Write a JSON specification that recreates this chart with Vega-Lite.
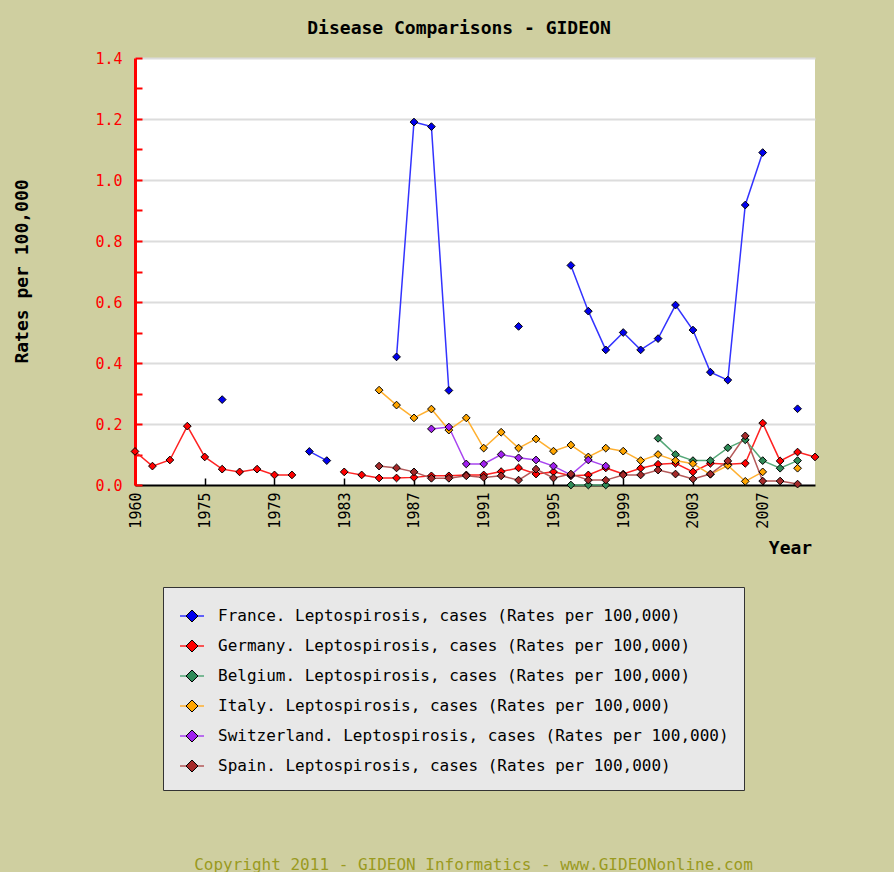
{
  "$schema": "https://vega.github.io/schema/vega-lite/v6.json",
  "width": 680,
  "height": 427,
  "autosize": "none",
  "padding": {"left": 135, "top": 58, "right": 79, "bottom": 387},
  "background": "#cfcfa0",
  "config": {
    "view": {"fill": "white", "stroke": null},
    "font": "DejaVu Sans Mono"
  },
  "title": {
    "text": "Disease Comparisons - GIDEON",
    "font": "DejaVu Sans Mono",
    "fontSize": 18,
    "fontWeight": "bold",
    "color": "black",
    "anchor": "middle",
    "dx": -16,
    "offset": 13
  },
  "data": {
    "values": [
      {"country": "France", "year": "1976", "rate": 0.28},
      {"country": "France", "year": "1977", "rate": null},
      {"country": "France", "year": "1981", "rate": 0.11},
      {"country": "France", "year": "1982", "rate": 0.08},
      {"country": "France", "year": "1983", "rate": null},
      {"country": "France", "year": "1986", "rate": 0.42},
      {"country": "France", "year": "1987", "rate": 1.19},
      {"country": "France", "year": "1988", "rate": 1.175},
      {"country": "France", "year": "1989", "rate": 0.31},
      {"country": "France", "year": "1990", "rate": null},
      {"country": "France", "year": "1993", "rate": 0.52},
      {"country": "France", "year": "1994", "rate": null},
      {"country": "France", "year": "1996", "rate": 0.72},
      {"country": "France", "year": "1997", "rate": 0.57},
      {"country": "France", "year": "1998", "rate": 0.443},
      {"country": "France", "year": "1999", "rate": 0.5},
      {"country": "France", "year": "2000", "rate": 0.443},
      {"country": "France", "year": "2001", "rate": 0.48},
      {"country": "France", "year": "2002", "rate": 0.59},
      {"country": "France", "year": "2003", "rate": 0.508},
      {"country": "France", "year": "2004", "rate": 0.37},
      {"country": "France", "year": "2005", "rate": 0.344},
      {"country": "France", "year": "2006", "rate": 0.918},
      {"country": "France", "year": "2007", "rate": 1.09},
      {"country": "France", "year": "2008", "rate": null},
      {"country": "France", "year": "2009", "rate": 0.25},

      {"country": "Germany", "year": "1960", "rate": 0.11},
      {"country": "Germany", "year": "1965", "rate": 0.062},
      {"country": "Germany", "year": "1970", "rate": 0.082},
      {"country": "Germany", "year": "1973", "rate": 0.193},
      {"country": "Germany", "year": "1975", "rate": 0.092},
      {"country": "Germany", "year": "1976", "rate": 0.052},
      {"country": "Germany", "year": "1977", "rate": 0.043},
      {"country": "Germany", "year": "1978", "rate": 0.052},
      {"country": "Germany", "year": "1979", "rate": 0.033},
      {"country": "Germany", "year": "1980", "rate": 0.033},
      {"country": "Germany", "year": "1981", "rate": null},
      {"country": "Germany", "year": "1983", "rate": 0.043},
      {"country": "Germany", "year": "1984", "rate": 0.033},
      {"country": "Germany", "year": "1985", "rate": 0.023},
      {"country": "Germany", "year": "1986", "rate": 0.023},
      {"country": "Germany", "year": "1987", "rate": 0.025},
      {"country": "Germany", "year": "1988", "rate": 0.03},
      {"country": "Germany", "year": "1989", "rate": 0.03},
      {"country": "Germany", "year": "1990", "rate": 0.033},
      {"country": "Germany", "year": "1991", "rate": 0.033},
      {"country": "Germany", "year": "1992", "rate": 0.044},
      {"country": "Germany", "year": "1993", "rate": 0.056},
      {"country": "Germany", "year": "1994", "rate": 0.036},
      {"country": "Germany", "year": "1995", "rate": 0.043},
      {"country": "Germany", "year": "1996", "rate": 0.03},
      {"country": "Germany", "year": "1997", "rate": 0.033},
      {"country": "Germany", "year": "1998", "rate": 0.056},
      {"country": "Germany", "year": "1999", "rate": 0.036},
      {"country": "Germany", "year": "2000", "rate": 0.055},
      {"country": "Germany", "year": "2001", "rate": 0.068},
      {"country": "Germany", "year": "2002", "rate": 0.071},
      {"country": "Germany", "year": "2003", "rate": 0.043},
      {"country": "Germany", "year": "2004", "rate": 0.071},
      {"country": "Germany", "year": "2005", "rate": 0.068},
      {"country": "Germany", "year": "2006", "rate": 0.071},
      {"country": "Germany", "year": "2007", "rate": 0.203},
      {"country": "Germany", "year": "2008", "rate": 0.079},
      {"country": "Germany", "year": "2009", "rate": 0.108},
      {"country": "Germany", "year": "2010", "rate": 0.092},

      {"country": "Belgium", "year": "1996", "rate": 0},
      {"country": "Belgium", "year": "1997", "rate": 0},
      {"country": "Belgium", "year": "1998", "rate": 0},
      {"country": "Belgium", "year": "1999", "rate": null},
      {"country": "Belgium", "year": "2001", "rate": 0.153},
      {"country": "Belgium", "year": "2002", "rate": 0.1},
      {"country": "Belgium", "year": "2003", "rate": 0.08},
      {"country": "Belgium", "year": "2004", "rate": 0.08},
      {"country": "Belgium", "year": "2005", "rate": 0.122},
      {"country": "Belgium", "year": "2006", "rate": 0.148},
      {"country": "Belgium", "year": "2007", "rate": 0.08},
      {"country": "Belgium", "year": "2008", "rate": 0.055},
      {"country": "Belgium", "year": "2009", "rate": 0.08},

      {"country": "Italy", "year": "1985", "rate": 0.311},
      {"country": "Italy", "year": "1986", "rate": 0.262},
      {"country": "Italy", "year": "1987", "rate": 0.22},
      {"country": "Italy", "year": "1988", "rate": 0.249},
      {"country": "Italy", "year": "1989", "rate": 0.18},
      {"country": "Italy", "year": "1990", "rate": 0.22},
      {"country": "Italy", "year": "1991", "rate": 0.121},
      {"country": "Italy", "year": "1992", "rate": 0.173},
      {"country": "Italy", "year": "1993", "rate": 0.121},
      {"country": "Italy", "year": "1994", "rate": 0.151},
      {"country": "Italy", "year": "1995", "rate": 0.111},
      {"country": "Italy", "year": "1996", "rate": 0.131},
      {"country": "Italy", "year": "1997", "rate": 0.092},
      {"country": "Italy", "year": "1998", "rate": 0.121},
      {"country": "Italy", "year": "1999", "rate": 0.111},
      {"country": "Italy", "year": "2000", "rate": 0.08},
      {"country": "Italy", "year": "2001", "rate": 0.1},
      {"country": "Italy", "year": "2002", "rate": 0.08},
      {"country": "Italy", "year": "2003", "rate": 0.07},
      {"country": "Italy", "year": "2004", "rate": 0.035},
      {"country": "Italy", "year": "2005", "rate": 0.064},
      {"country": "Italy", "year": "2006", "rate": 0.012},
      {"country": "Italy", "year": "2007", "rate": 0.043},
      {"country": "Italy", "year": "2008", "rate": null},
      {"country": "Italy", "year": "2009", "rate": 0.055},

      {"country": "Switzerland", "year": "1988", "rate": 0.184},
      {"country": "Switzerland", "year": "1989", "rate": 0.19},
      {"country": "Switzerland", "year": "1990", "rate": 0.069},
      {"country": "Switzerland", "year": "1991", "rate": 0.069},
      {"country": "Switzerland", "year": "1992", "rate": 0.1},
      {"country": "Switzerland", "year": "1993", "rate": 0.089},
      {"country": "Switzerland", "year": "1994", "rate": 0.082},
      {"country": "Switzerland", "year": "1995", "rate": 0.062},
      {"country": "Switzerland", "year": "1996", "rate": 0.033},
      {"country": "Switzerland", "year": "1997", "rate": 0.082},
      {"country": "Switzerland", "year": "1998", "rate": 0.062},

      {"country": "Spain", "year": "1985", "rate": 0.062},
      {"country": "Spain", "year": "1986", "rate": 0.056},
      {"country": "Spain", "year": "1987", "rate": 0.043},
      {"country": "Spain", "year": "1988", "rate": 0.022},
      {"country": "Spain", "year": "1989", "rate": 0.022},
      {"country": "Spain", "year": "1990", "rate": 0.03},
      {"country": "Spain", "year": "1991", "rate": 0.025},
      {"country": "Spain", "year": "1992", "rate": 0.03},
      {"country": "Spain", "year": "1993", "rate": 0.016},
      {"country": "Spain", "year": "1994", "rate": 0.052},
      {"country": "Spain", "year": "1995", "rate": 0.023},
      {"country": "Spain", "year": "1996", "rate": 0.036},
      {"country": "Spain", "year": "1997", "rate": 0.016},
      {"country": "Spain", "year": "1998", "rate": 0.016},
      {"country": "Spain", "year": "1999", "rate": 0.033},
      {"country": "Spain", "year": "2000", "rate": 0.033},
      {"country": "Spain", "year": "2001", "rate": 0.049},
      {"country": "Spain", "year": "2002", "rate": 0.036},
      {"country": "Spain", "year": "2003", "rate": 0.02},
      {"country": "Spain", "year": "2004", "rate": 0.036},
      {"country": "Spain", "year": "2005", "rate": 0.079},
      {"country": "Spain", "year": "2006", "rate": 0.161},
      {"country": "Spain", "year": "2007", "rate": 0.013},
      {"country": "Spain", "year": "2008", "rate": 0.013},
      {"country": "Spain", "year": "2009", "rate": 0.003}
    ]
  },
  "encoding": {
    "x": {
      "field": "year",
      "type": "ordinal",
      "scale": {
        "type": "point",
        "padding": 0,
        "domain": ["1960","1965","1970","1973","1975","1976","1977","1978","1979","1980","1981","1982","1983","1984","1985","1986","1987","1988","1989","1990","1991","1992","1993","1994","1995","1996","1997","1998","1999","2000","2001","2002","2003","2004","2005","2006","2007","2008","2009","2010"]
      },
      "axis": {
        "values": ["1960","1975","1979","1983","1987","1991","1995","1999","2003","2007"],
        "labelAngle": -90,
        "labelFont": "DejaVu Sans Mono",
        "labelFontSize": 15,
        "labelColor": "black",
        "labelPadding": 14,
        "tickSize": -7,
        "tickColor": "black",
        "tickWidth": 1.5,
        "domainColor": "black",
        "domainWidth": 2,
        "grid": false,
        "title": "Year",
        "titleFont": "DejaVu Sans Mono",
        "titleFontSize": 18,
        "titleFontWeight": "bold",
        "titleColor": "black",
        "titleX": 655,
        "titleY": 63,
        "titleAlign": "center",
        "titleBaseline": "middle"
      }
    },
    "y": {
      "field": "rate",
      "type": "quantitative",
      "scale": {"domain": [0, 1.4], "nice": false, "zero": true},
      "axis": {
        "values": [0, 0.1, 0.2, 0.3, 0.4, 0.5, 0.6, 0.7, 0.8, 0.9, 1.0, 1.1, 1.2, 1.3, 1.4],
        "labelExpr": "round(datum.value*10) % 2 === 0 ? format(datum.value, '.1f') : ''",
        "grid": true,
        "gridColor": "#dcdcdc",
        "gridWidth": 2,
        "gridOpacity": {"condition": {"test": "round(datum.value*10) % 2 === 0 && datum.value > 0", "value": 1}, "value": 0},
        "tickSize": -7,
        "tickColor": "red",
        "tickWidth": 2,
        "domainColor": "red",
        "domainWidth": 3,
        "labelColor": "red",
        "labelFont": "DejaVu Sans Mono",
        "labelFontSize": 15,
        "labelPadding": 20,
        "title": "Rates per 100,000",
        "titleFont": "DejaVu Sans Mono",
        "titleFontSize": 18,
        "titleFontWeight": "bold",
        "titleColor": "black",
        "titleX": -113,
        "titleY": 213,
        "titleAlign": "center",
        "titleBaseline": "middle"
      }
    }
  },
  "layer": [
    {
      "mark": {"type": "line", "strokeWidth": 1.5, "invalid": "break-paths-filter-domains"},
      "encoding": {
        "stroke": {
          "field": "country",
          "type": "nominal",
          "scale": {
            "domain": ["France", "Germany", "Belgium", "Italy", "Switzerland", "Spain"],
            "range": ["#3333ff", "#ff2222", "#55a878", "#ffb030", "#a845f0", "#b55a5a"]
          },
          "legend": {
            "orient": "none",
            "legendX": 28,
            "legendY": 529,
            "direction": "vertical",
            "title": null,
            "symbolType": "stroke",
            "symbolSize": 576,
            "symbolStrokeWidth": 1.5,
            "labelExpr": "datum.label + '. Leptospirosis, cases (Rates per 100,000)'",
            "labelOpacity": 0,
            "labelFont": "DejaVu Sans Mono",
            "labelFontSize": 16,
            "labelLimit": 700,
            "labelOffset": 12,
            "padding": 16,
            "rowPadding": 9,
            "fillColor": "#e8e8e8",
            "strokeColor": "#333333",
            "zindex": 0
          }
        }
      }
    },
    {
      "mark": {"type": "point", "shape": "diamond", "filled": true, "size": 60, "opacity": 1, "stroke": "black", "strokeWidth": 1, "invalid": "filter"},
      "encoding": {
        "x": {
          "field": "year",
          "type": "ordinal",
          "scale": {
            "type": "point",
            "padding": 0,
            "domain": ["1960","1965","1970","1973","1975","1976","1977","1978","1979","1980","1981","1982","1983","1984","1985","1986","1987","1988","1989","1990","1991","1992","1993","1994","1995","1996","1997","1998","1999","2000","2001","2002","2003","2004","2005","2006","2007","2008","2009","2010"]
          },
          "axis": {
            "orient": "top",
            "labels": false,
            "ticks": false,
            "domain": false,
            "grid": false,
            "title": "Copyright 2011 - GIDEON Informatics - www.GIDEONonline.com",
            "titleFont": "DejaVu Sans Mono",
            "titleFontSize": 16,
            "titleFontWeight": "normal",
            "titleColor": "#9a9a20",
            "titleX": 338,
            "titleY": 806,
            "titleAlign": "center",
            "titleBaseline": "middle"
          }
        },
        "fill": {
          "field": "country",
          "type": "nominal",
          "sort": ["France", "Germany", "Belgium", "Italy", "Switzerland", "Spain"],
          "scale": {"range": ["#0000ee", "#ff0000", "#2e8b57", "#ffa500", "#a020f0", "#a52a2a"]},
          "legend": {
            "orient": "none",
            "legendX": 33,
            "legendY": 534,
            "direction": "vertical",
            "title": null,
            "symbolType": "diamond",
            "symbolSize": 144,
            "symbolStrokeColor": "black",
            "symbolStrokeWidth": 1,
            "symbolOpacity": 1,
            "labelExpr": "datum.label + '. Leptospirosis, cases (Rates per 100,000)'",
            "labelFont": "DejaVu Sans Mono",
            "labelFontSize": 16,
            "labelColor": "black",
            "labelLimit": 700,
            "labelOffset": 18,
            "padding": 16,
            "rowPadding": 14,
            "zindex": 1
          }
        }
      }
    }
  ],
  "resolve": {"axis": {"x": "independent"}}
}
